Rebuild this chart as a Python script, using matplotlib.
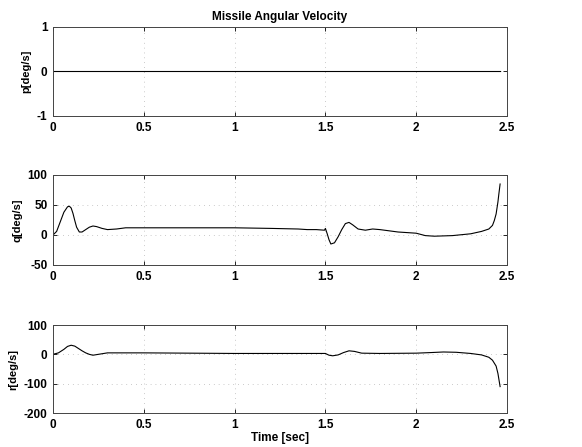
import matplotlib
matplotlib.use("Agg")
import matplotlib.pyplot as plt
import numpy as np

# Data
t_p = [0.0, 2.46]
p_vals = [0.0, 0.0]

t_q = [0.0, 0.02, 0.04, 0.06, 0.08, 0.09, 0.1, 0.11, 0.12, 0.13, 0.145, 0.16, 0.18, 0.2, 0.22, 0.24, 0.27, 0.3,
       0.35, 0.4, 0.6, 0.8, 1.0, 1.2, 1.35, 1.4, 1.45, 1.495, 1.5, 1.51, 1.52, 1.53, 1.55, 1.57, 1.59, 1.61,
       1.63, 1.65, 1.68, 1.72, 1.76, 1.8, 1.9, 2.0, 2.05, 2.1, 2.2, 2.3, 2.36, 2.4, 2.42, 2.43, 2.44, 2.45,
       2.455, 2.462]
q_vals = [0.0, 6, 22, 38, 47, 48, 45, 36, 24, 13, 5, 5, 9, 13, 15, 14, 11, 9,
          10, 12, 12, 12, 12, 11, 10, 9, 9, 8, 11, 2, -8, -15, -13, -3, 9, 19,
          21, 17, 10, 8, 10, 9, 5, 3, -1, -2, -1, 2, 6, 10, 16, 24, 35, 55,
          68, 85]

t_r = [0.0, 0.03, 0.06, 0.08, 0.1, 0.12, 0.14, 0.16, 0.18, 0.2, 0.22, 0.25, 0.3, 0.5, 1.0, 1.5, 1.52, 1.54,
       1.57, 1.6, 1.63, 1.66, 1.7, 1.8, 2.0, 2.08, 2.15, 2.22, 2.3, 2.36, 2.4, 2.42, 2.44, 2.45, 2.462]
r_vals = [0.0, 5, 17, 27, 31, 28, 20, 12, 5, 0, -3, 0, 5, 5, 3, 3, -3, -5,
          -2, 6, 12, 10, 4, 3, 4, 6, 8, 7, 3, -2, -10, -20, -40, -65, -110]

xticks = [0, 0.5, 1, 1.5, 2, 2.5]
xtick_labels = ["0", "0.5", "1", "1.5", "2", "2.5"]

plt.rcParams['font.family'] = ['Liberation Sans', 'DejaVu Sans']
plt.rcParams['font.size'] = 8.5

fig = plt.figure(figsize=(5.82, 4.47), dpi=100)
W, H = 582, 447
left = 53 / W
width = (507 - 53) / W

def mk(top, bottom):
    return fig.add_axes([left, 1 - bottom / H, width, (bottom - top) / H])

ax1 = mk(27, 116)
ax2 = mk(175, 265)
ax3 = mk(325, 413)

for ax, t, v, yl, yt, ylab in [
    (ax1, t_p, p_vals, (-1, 1), [-1, 0, 1], "p[deg/s]"),
    (ax2, t_q, q_vals, (-50, 100), [-50, 0, 50, 100], "q[deg/s]"),
    (ax3, t_r, r_vals, (-200, 100), [-200, -100, 0, 100], "r[deg/s]"),
]:
    ax.plot(t, v, color='black', linewidth=0.8)
    ax.set_xlim(0, 2.5)
    ax.set_ylim(*yl)
    ax.set_yticks(yt)
    ax.set_yticklabels([str(y) for y in yt], fontweight='bold')
    ax.set_xticks(xticks)
    ax.set_xticklabels(xtick_labels, fontweight='bold')
    ax.grid(True, linestyle=(0, (1, 6)), color='#999999', linewidth=0.5)
    ax.tick_params(direction='in', length=3, width=0.6, top=True, right=True, pad=4)
    for s in ax.spines.values():
        s.set_linewidth(0.7)
        s.set_color('#444444')
    ax.set_ylabel(ylab, fontweight='bold', fontsize=8, labelpad=4)

ax1.set_title("Missile Angular Velocity", fontweight='bold', fontsize=8.5, pad=5)
ax3.set_xlabel("Time [sec]", fontweight='bold', fontsize=8.5, labelpad=1)

fig.savefig("out.png", dpi=100, facecolor='white')
